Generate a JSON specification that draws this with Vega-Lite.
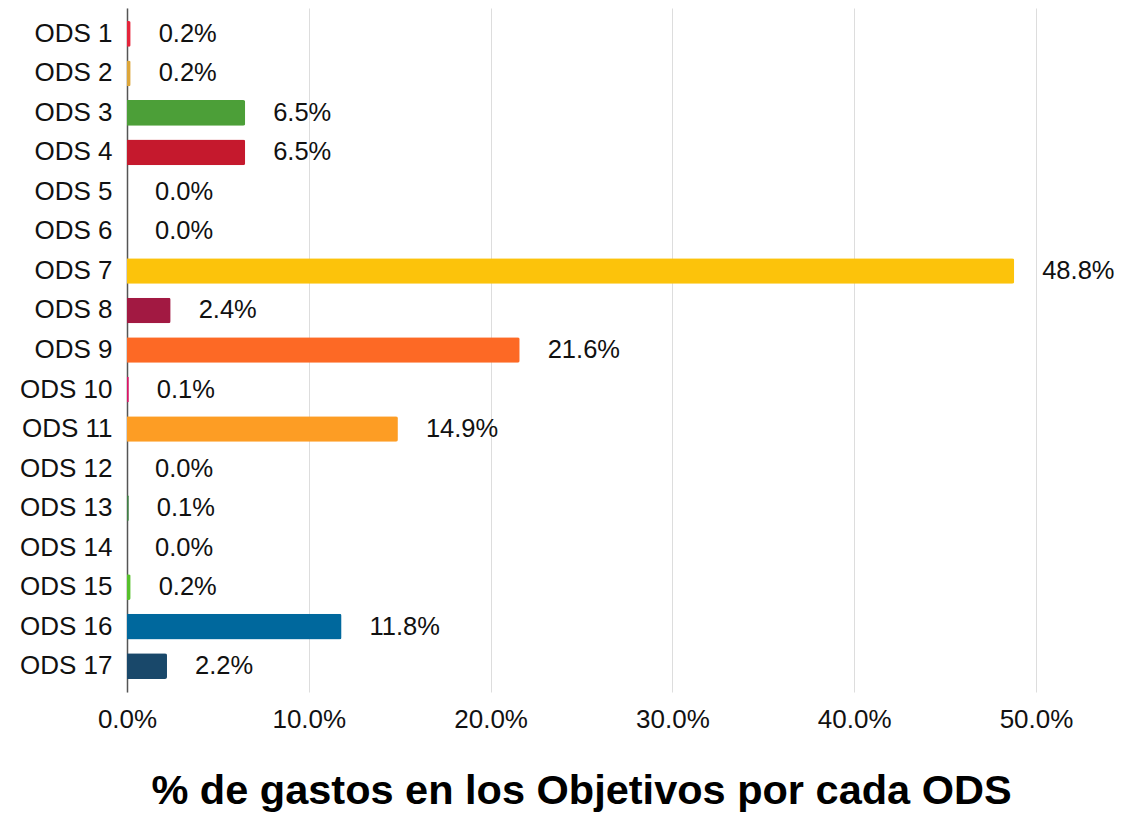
{
  "$schema": "https://vega.github.io/schema/vega-lite/v6.json",
  "autosize": {"type": "none"},
  "padding": {"left": 127, "top": 8, "right": 102, "bottom": 122},
  "width": 909,
  "height": 684,
  "background": "white",
  "config": {
    "font": "Liberation Sans",
    "view": {"stroke": null}
  },
  "title": {
    "text": "% de gastos en los Objetivos por cada ODS",
    "orient": "bottom",
    "anchor": "middle",
    "fontSize": 41.5,
    "fontWeight": "bold",
    "font": "Liberation Sans",
    "color": "#000000",
    "offset": 39
  },
  "data": {
    "values": [
      {"ods": "ODS 1", "valor": 0.002, "color": "#E5243B"},
      {"ods": "ODS 2", "valor": 0.002, "color": "#DDA63A"},
      {"ods": "ODS 3", "valor": 0.065, "color": "#4C9F38"},
      {"ods": "ODS 4", "valor": 0.065, "color": "#C5192D"},
      {"ods": "ODS 5", "valor": 0.0, "color": "#FF3A21"},
      {"ods": "ODS 6", "valor": 0.0, "color": "#26BDE2"},
      {"ods": "ODS 7", "valor": 0.488, "color": "#FCC30B"},
      {"ods": "ODS 8", "valor": 0.024, "color": "#A21942"},
      {"ods": "ODS 9", "valor": 0.216, "color": "#FD6925"},
      {"ods": "ODS 10", "valor": 0.001, "color": "#DD1367"},
      {"ods": "ODS 11", "valor": 0.149, "color": "#FD9D24"},
      {"ods": "ODS 12", "valor": 0.0, "color": "#BF8B2E"},
      {"ods": "ODS 13", "valor": 0.001, "color": "#3F7E44"},
      {"ods": "ODS 14", "valor": 0.0, "color": "#0A97D9"},
      {"ods": "ODS 15", "valor": 0.002, "color": "#56C02B"},
      {"ods": "ODS 16", "valor": 0.118, "color": "#00689D"},
      {"ods": "ODS 17", "valor": 0.022, "color": "#19486A"}
    ]
  },
  "encoding": {
    "y": {
      "field": "ods",
      "type": "nominal",
      "sort": null,
      "scale": {"paddingInner": 0.35, "paddingOuter": 0.33},
      "axis": {
        "title": null,
        "ticks": false,
        "labelFontSize": 26,
        "labelColor": "#111111",
        "labelPadding": 15,
        "domainColor": "#555555",
        "domainWidth": 1.5,
        "labelFont": "Liberation Sans"
      }
    },
    "x": {
      "field": "valor",
      "type": "quantitative",
      "scale": {"domain": [0, 0.5], "nice": false},
      "axis": {
        "title": null,
        "format": ".1%",
        "values": [0, 0.1, 0.2, 0.3, 0.4, 0.5],
        "grid": true,
        "gridColor": "#dddddd",
        "gridWidth": 1,
        "domain": false,
        "ticks": false,
        "labelFlush": false,
        "labelFontSize": 26,
        "labelColor": "#111111",
        "labelPadding": 14,
        "labelFont": "Liberation Sans"
      }
    }
  },
  "layer": [
    {
      "mark": {"type": "bar", "cornerRadiusEnd": 2},
      "encoding": {
        "color": {"field": "color", "type": "nominal", "scale": null}
      }
    },
    {
      "mark": {"type": "text", "align": "left", "baseline": "middle", "dx": 28, "fontSize": 25.5, "color": "#111111", "font": "Liberation Sans"},
      "encoding": {
        "text": {"field": "valor", "type": "quantitative", "format": ".1%"}
      }
    }
  ]
}
